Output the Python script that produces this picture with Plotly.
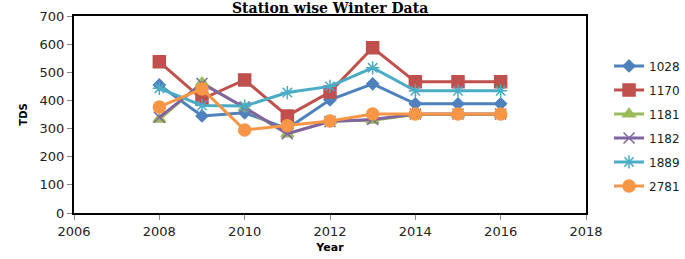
import plotly.graph_objects as go

years = [2008, 2009, 2010, 2011, 2012, 2013, 2014, 2015, 2016]
s1028 = [455, 345, 356, 300, 402, 459, 388, 388, 388]
s1170 = [537, 405, 473, 345, 430, 587, 466, 466, 466]
s1181 = [333, 463, 373, 281, 327, 330, 350, 350, 350]
s1182 = [340, 460, 375, 282, 325, 332, 352, 352, 352]
s1889 = [443, 382, 380, 428, 450, 516, 434, 434, 434]
s2781 = [377, 441, 295, 310, 327, 352, 352, 352, 352]

names = ["1028", "1170", "1181", "1182", "1889", "2781"]
series = [s1028, s1170, s1181, s1182, s1889, s2781]
colors = ["#4F81BD", "#C0504D", "#9BBB59", "#8064A2", "#4BACC6", "#F79646"]
symbols = ["diamond", "square", "triangle-up", "x-thin", "asterisk", "circle"]
sizes = [9, 12, 11, 11, 11, 12]

fig = go.Figure()
for n, s, c, sym, sz in zip(names, series, colors, symbols, sizes):
    fig.add_trace(go.Scatter(
        x=years, y=s, name=n, mode="lines+markers", legendgroup=n,
        line=dict(color=c, width=3),
        marker=dict(symbol=sym, size=sz, color=c,
                    line=dict(color=c, width=1.5)),
    ))

font_ax = dict(family="DejaVu Sans", size=13, color="#222222")
fig.update_layout(
    width=685, height=259,
    margin=dict(l=74, r=99, t=16, b=46, autoexpand=False),
    paper_bgcolor="white", plot_bgcolor="white",
    showlegend=True,
    legend=dict(x=1.045, y=0.82, xanchor="left", yanchor="top",
                font=dict(family="DejaVu Sans", size=12, color="#222222"),
                tracegroupgap=5, itemwidth=30, bgcolor="rgba(0,0,0,0)"),
    xaxis=dict(range=[2006, 2018], tickvals=[2006, 2008, 2010, 2012, 2014, 2016, 2018],
               showgrid=False, zeroline=False, showline=True, linecolor="black",
               linewidth=2, mirror=True, ticks="outside", ticklen=5, automargin=False,
               tickcolor="#888888", tickfont=font_ax,
               title=dict(text="<b>Year</b>", font=dict(family="DejaVu Sans", size=11, color="black"),
                          standoff=6)),
    yaxis=dict(range=[0, 700], tickvals=[0, 100, 200, 300, 400, 500, 600, 700],
               showgrid=False, zeroline=False, showline=True, linecolor="black",
               linewidth=2, mirror=True, ticks="outside", ticklen=5, automargin=False,
               tickcolor="#888888", tickfont=font_ax,
               title=dict(text="<b>TDS</b>", font=dict(family="DejaVu Sans", size=10, color="black"),
                          standoff=10)),
)
fig.add_annotation(text="<b>Station wise Winter Data</b>", xref="paper", yref="paper",
                   x=0.5, y=1.0, xanchor="center", yanchor="bottom", showarrow=False,
                   borderpad=0, yshift=-1,
                   font=dict(family="DejaVu Serif", size=14, color="black"))
fig.write_html("out.html", config={"displayModeBar": False},
               post_script="document.body.style.margin='0';document.body.style.overflow='hidden';")
